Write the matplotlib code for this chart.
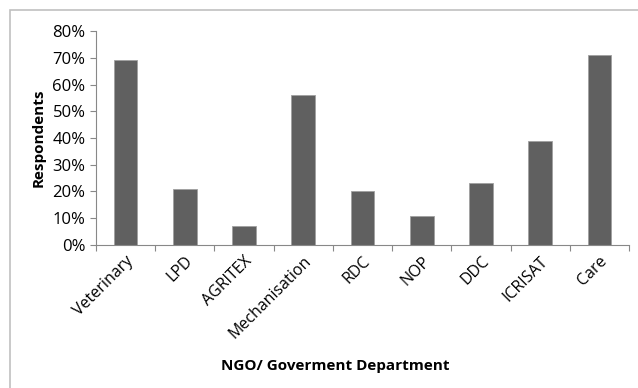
import matplotlib.pyplot as plt
import matplotlib.patches as patches
from matplotlib.ticker import PercentFormatter

categories = ["Veterinary", "LPD", "AGRITEX", "Mechanisation", "RDC",
              "NOP", "DDC", "ICRISAT", "Care"]
values = [69, 21, 7, 56, 20, 11, 23, 39, 71]

plt.rcParams['font.family'] = ['Open Sans', 'DejaVu Sans']

fig = plt.figure(figsize=(6.38, 3.88), dpi=100)
ax = fig.add_axes([0.1505, 0.3686, 0.8355, 0.5514])

# chart border (light gray, runs off the right/bottom edges)
fig.patches.append(patches.Rectangle((10/638, -0.05), 1.1, 1 - 10/388 + 0.05,
                                     transform=fig.transFigure, fill=False,
                                     edgecolor='#c0c0c0', linewidth=1.2))

x = range(len(categories))
ax.bar(x, values, width=0.4, color='#606060', edgecolor='#a0a0a0', linewidth=0.6)

ax.set_xlim(-0.5, len(categories) - 0.5)
ax.set_ylim(0, 80)
ax.set_yticks(range(0, 81, 10))
ax.yaxis.set_major_formatter(PercentFormatter(decimals=0))

ax.set_xticks([i - 0.5 for i in range(len(categories) + 1)])
ax.set_xticklabels([])
ax.set_xticks(list(x), minor=True)
ax.set_xticklabels(categories, minor=True, rotation=45, ha='right',
                   rotation_mode='anchor', fontsize=11.5)
ax.tick_params(axis='x', which='minor', length=0, pad=6)
ax.tick_params(axis='x', which='major', length=4, color='#888888', direction='out')
ax.tick_params(axis='y', length=4, color='#888888', labelsize=12)

for s in ['top', 'right']:
    ax.spines[s].set_visible(False)
for s in ['left', 'bottom']:
    ax.spines[s].set_color('#888888')

ax.set_ylabel('Respondents', fontsize=11, fontweight='bold', labelpad=5)
fig.text(0.525, 1 - 366/388, 'NGO/ Goverment Department', ha='center', va='center',
         fontsize=11, fontweight='bold')

fig.savefig('out.png', dpi=100)
